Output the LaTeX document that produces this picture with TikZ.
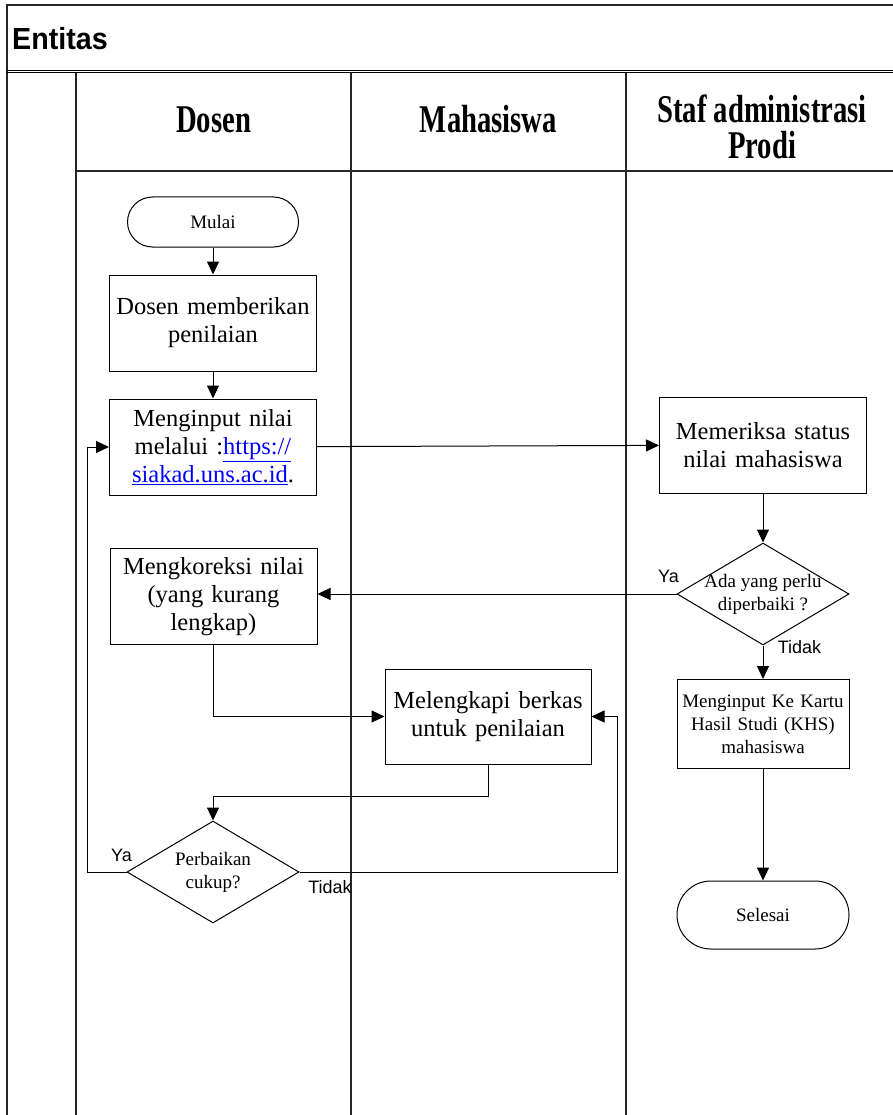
\documentclass[tikz,border=0pt]{standalone}
\usepackage{fontspec}
\setmainfont{Liberation Serif}
\newfontfamily\arialfont{Liberation Sans}
\newfontfamily\entitasfont[FakeStretch=0.94]{Liberation Sans}
\newfontfamily\judulfont[FakeStretch=0.73]{Liberation Serif}
\usetikzlibrary{arrows.meta, positioning, shapes.geometric}

\begin{document}
\begin{tikzpicture}[
	x=1pt, y=-1pt,
	garis/.style={line width=1.4pt, black!85},
	panah/.style={-{Triangle[length=13pt, width=12pt]}, line width=1pt},
	besar/.style={font=\fontsize{24.5}{28}\selectfont},
	kecil/.style={font=\fontsize{19}{23}\selectfont},
	proses/.style={draw, line width=1pt, besar, text width=199pt, inner sep=4pt,
		align=center, minimum height=96pt},
	terminal/.style={draw, line width=1pt, kecil, rounded corners=25pt,
		minimum width=171pt, minimum height=50pt},
	keputusan/.style={draw, diamond, line width=1pt, inner sep=0pt,
		minimum width=172pt, minimum height=102pt},
	judul/.style={font=\judulfont\bfseries\fontsize{39.3}{36}\selectfont,
		align=center, inner sep=0pt},
	ket/.style={font=\arialfont\fontsize{18}{20}\selectfont, inner sep=0pt, anchor=base}
	]
\useasboundingbox (0,0) rectangle (893,1115);

% kerangka tabel
\draw[garis] (7,1115) -- (7,5) -- (893,5);
\draw[line width=1pt] (7,70.5) -- (893,70.5);
\draw[line width=1pt] (7,73) -- (893,73);
\draw[garis] (76,171) -- (893,171);
\foreach \x in {76, 351, 626}
	\draw[garis] (\x,73) -- (\x,1115);

\node[font=\entitasfont\bfseries\fontsize{30.5}{34}\selectfont, inner sep=0pt, anchor=base west] (entitas) at (12,50) {Entitas};
\node[judul] (dosen) at (213.5,119.5) {Dosen};
\node[judul] (mhs) at (488.5,119.5) {Mahasiswa};
\node[judul] (staf) at (762,126.5) {Staf administrasi\\Prodi};

% alur
\node[terminal] (mulai) at (213,222) {Mulai};
\node[proses, below=27pt of mulai] (nilai) {Dosen memberikan\\penilaian};
\node[proses, below=27pt of nilai] (input) {Menginput nilai\\melalui :{\color{blue}\underline{https://}}\\{\color{blue}\underline{siakad.uns.ac.id}}.};
\node[proses] (periksa) at (763,445) {Memeriksa status\\nilai mahasiswa};
\node[keputusan, label={[kecil, align=center]center:Ada yang perlu\\diperbaiki ?}] (ada) at (763,594) {};
\node[proses] (koreksi) at (213.5,596.5) {Mengkoreksi nilai\\(yang kurang\\lengkap)};
\node[proses, kecil, text width=164pt, minimum height=89pt] (khs) at (763,724) {Menginput Ke Kartu\\Hasil Studi (KHS)\\mahasiswa};
\node[proses, text width=198pt, minimum height=95pt] (lengkap) at (488,716.5) {Melengkapi berkas\\untuk penilaian};
\node[keputusan, label={[kecil, align=center]center:Perbaikan\\cukup?}] (cukup) at (213,872) {};
\node[terminal, minimum width=172pt, minimum height=68pt, rounded corners=34pt] (selesai) at (763,915) {Selesai};

\node[ket] (ya1) at (668.5,582) {Ya};
\node[ket] (tidak1) at (799.5,653) {Tidak};
\node[ket] (ya2) at (121.5,861) {Ya};
\node[ket] (tidak2) at (330,893) {Tidak};

\draw[panah] (mulai) -- (nilai);
\draw[panah] (nilai) -- (input);
\draw[panah] (input) -- (periksa);
\draw[panah] (periksa) -- (ada);
\draw[panah] (ada.west) -- (ada.west -| koreksi.east);
\draw[panah] (ada) -- (khs);
\draw[panah] (khs) -- (selesai);
\draw[panah] (koreksi.south) |- (lengkap.west);
\draw[panah] (lengkap.south) -- ++(0,32) -| (cukup.north);
\draw[panah] (cukup.west) -- ++(-39,0) |- (input.west);
\draw[panah] (cukup.east) -- ++(318,0) |- (lengkap.east);
\end{tikzpicture}
\end{document}
